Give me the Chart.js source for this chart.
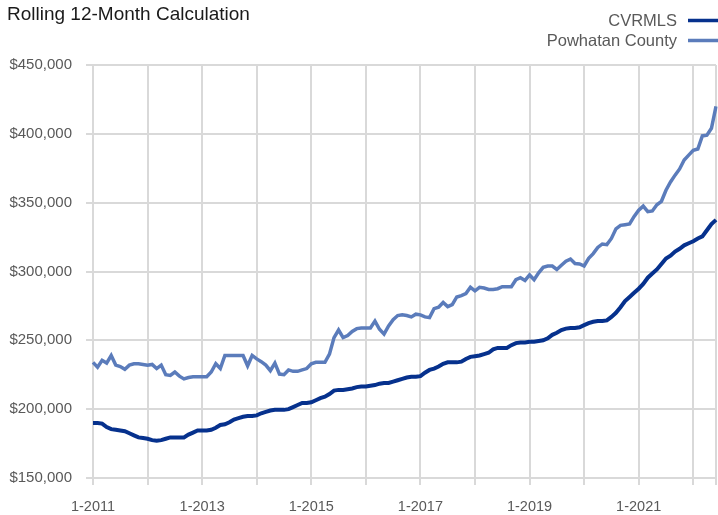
<!DOCTYPE html>
<html lang="en">
<head>
    <meta charset="UTF-8">
    <meta name="viewport" content="width=device-width, initial-scale=1.0">
    <script src="https://cdn.jsdelivr.net/npm/chart.js@4.4.1/dist/chart.umd.min.js"></script>
    <title>Rolling 12-Month Calculation</title>
    <style>
        body { margin: 0; background: #fff; }
        #wrap { width: 718px; height: 515px; }
    </style>
</head>
<body>
    <div id="wrap"><canvas id="chart"></canvas></div>

    <script>
        const chartTitle = 'Rolling 12-Month Calculation';

        // monthly, 1-2011 through 6-2022
        const cvrmls = [
            190000, 190000, 189500, 187000, 185500, 185000, 184500, 184000, 182500, 181000, 179500, 179000,
            178500, 177500, 177000, 177500, 178500, 179500, 179500, 179500, 179500, 181500, 183000, 184500,
            184500, 184500, 185000, 186500, 188500, 189000, 190500, 192500, 193500, 194500, 195000, 195000,
            195500, 197000, 198000, 199000, 199500, 199500, 199500, 200000, 201500, 203000, 204500, 204500,
            205000, 206500, 208000, 209000, 211000, 213500, 214000, 214000, 214500, 215000, 216000, 216500,
            216500, 217000, 217500, 218500, 219000, 219000, 220000, 221000, 222000, 223000, 223500, 223500,
            224000, 226500, 228500, 229500, 231000, 233000, 234000, 234000, 234000, 234500, 236500, 238000,
            238500, 239000, 240000, 241000, 243500, 244500, 244500, 244500, 246500, 248000, 248500, 248500,
            249000, 249000, 249500, 250000, 251500, 254000, 255500, 257500, 258500, 259000, 259000, 259500,
            261000, 262500, 263500, 264000, 264000, 264500, 267000, 270000, 274000, 278500, 281500, 284500,
            287500, 291000, 295500, 298500, 301500, 305500, 309500, 311500, 314500, 316500, 319000, 320500,
            322000, 324000, 325500, 330000, 334500, 337500
        ];

        const powhatan = [
            234000, 230500, 235500, 233500, 239000, 232000, 231000, 229000, 232000, 233000, 233000, 232500,
            232000, 232500, 229500, 232000, 225000, 224500, 227000, 224000, 222000, 223000, 223500, 223500,
            223500, 223500, 227000, 233000, 229500, 239000, 239000, 239000, 239000, 239000, 231500, 239000,
            236500, 234500, 232000, 228000, 233500, 225500, 225000, 228500, 227500, 227500, 228500, 229500,
            233000, 234000, 234000, 234000, 240000, 252000, 257500, 252000, 253500, 256500, 258500, 259000,
            259000, 259000, 264000, 258000, 254500, 260500, 265000, 268000, 268500, 268000, 267000, 269000,
            268500, 267000, 266500, 273000, 274000, 277500, 274500, 276000, 281500, 282500, 284000, 288500,
            286000, 288500, 288000, 287000, 287000, 287500, 289000, 289000, 289000, 294000, 295500, 293500,
            297500, 294000, 299000, 303000, 304000, 304000, 301500, 304500, 307500, 309000, 305800, 305500,
            304000, 309500, 313000, 317500, 320000, 319500, 324000, 331000, 333500, 334000, 334500, 340000,
            344500, 347500, 343500, 344000, 348500, 351000, 359000, 365000, 370000, 374500, 381000, 384500,
            388000, 389000, 398500, 399000, 404000, 420000
        ];

        const months = [];
        for (let y = 2011; y <= 2022; y++) {
            for (let m = 1; m <= 12; m++) months.push(m + '-' + y);
        }
        months.length = cvrmls.length;

        const yTicks = { min: 150000, max: 450000, step: 50000 };

        const gridColor = '#d9d9d9';
        const textGray = '#595959';
        Chart.defaults.font.family = "'Liberation Sans', Arial, sans-serif";

        // title + stacked legend at top right
        const headerPlugin = {
            id: 'header',
            afterDraw(chart) {
                const ctx = chart.ctx;
                ctx.save();
                ctx.textBaseline = 'alphabetic';
                ctx.fillStyle = '#1a1a1a';
                ctx.font = "19px " + Chart.defaults.font.family;
                ctx.textAlign = 'left';
                ctx.fillText(chartTitle, 7, 20);

                ctx.font = "16.5px " + Chart.defaults.font.family;
                ctx.textAlign = 'right';
                const rows = [26, 46];
                chart.data.datasets.forEach((ds, i) => {
                    const base = rows[i];
                    ctx.fillStyle = textGray;
                    ctx.fillText(ds.label, 677, base);
                    ctx.strokeStyle = ds.borderColor;
                    ctx.lineWidth = 3.5;
                    ctx.beginPath();
                    ctx.moveTo(688, base - 5.5);
                    ctx.lineTo(718, base - 5.5);
                    ctx.stroke();
                });
                ctx.restore();
            }
        };

        const ctx = document.getElementById('chart');
        new Chart(ctx, {
            type: 'line',
            data: {
                labels: months,
                datasets: [{
                    label: 'CVRMLS',
                    data: cvrmls,
                    borderColor: '#06318d',
                    borderWidth: 4,
                    pointRadius: 0,
                    tension: 0
                }, {
                    label: 'Powhatan County',
                    data: powhatan,
                    borderColor: '#5b7cbb',
                    borderWidth: 3.5,
                    pointRadius: 0,
                    tension: 0
                }]
            },
            options: {
                responsive: true,
                maintainAspectRatio: false,
                animation: false,
                layout: { padding: { top: 65, right: 2, left: 0, bottom: 0 } },
                plugins: {
                    legend: { display: false },
                    tooltip: { enabled: false }
                },
                scales: {
                    x: {
                        grid: {
                            color: c => (c.index % 12 === 0 || c.index === months.length - 1) ? gridColor : 'rgba(0,0,0,0)',
                            lineWidth: 2,
                            tickLength: 7
                        },
                        border: { display: false },
                        ticks: {
                            autoSkip: false,
                            maxRotation: 0,
                            padding: 0,
                            color: textGray,
                            // tall line height pushes the labels down without adding side padding
                            font: { size: 14.5, lineHeight: '44px' },
                            callback: function(value, index) {
                                return index % 24 === 0 ? months[index] : '';
                            }
                        },
                        afterFit: s => { s.height = 37; }
                    },
                    y: {
                        min: yTicks.min,
                        max: yTicks.max,
                        grid: { color: gridColor, lineWidth: 2, tickLength: 7 },
                        border: { display: false },
                        ticks: {
                            stepSize: yTicks.step,
                            padding: 14,
                            color: textGray,
                            font: { size: 15 },
                            callback: v => '$' + v.toLocaleString('en-US')
                        },
                        afterFit: s => { s.width = 93; }
                    }
                }
            },
            plugins: [headerPlugin]
        });
    </script>
</body>
</html>
